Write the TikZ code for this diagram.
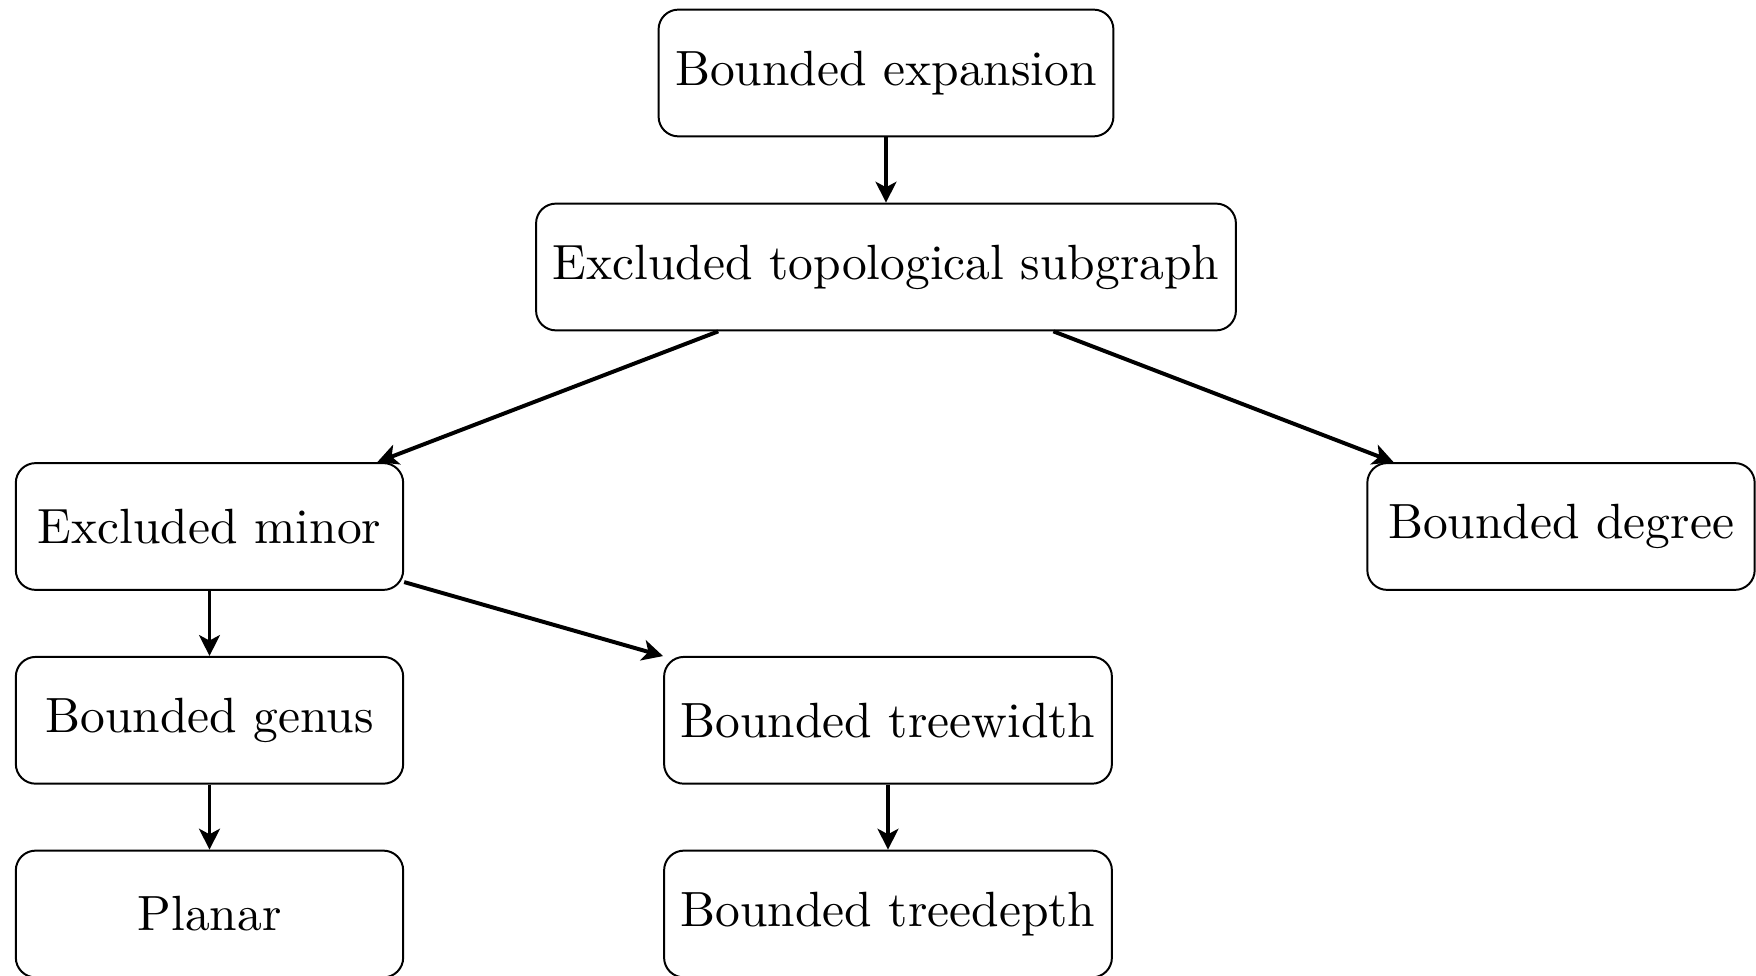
\documentclass[tikz,border=0pt]{standalone}
\usepackage{tikz}
\usetikzlibrary{arrows.meta}

\begin{document}
\begin{tikzpicture}[x=0.202pt,y=0.202pt,yscale=-1,xscale=1,
    classbox/.style={draw,rounded corners,minimum width=2.75cm,minimum height=0.9cm},
    implies/.style={thick,-{Stealth[length=4.2pt,width=4.2pt,inset=1.1pt]}}]
\useasboundingbox (0,0) rectangle (1756,976);
% Text Node
\node [classbox] (expansion) at (886,73) {Bounded expansion};
% Text Node
\node [classbox] (topsub) at (886,267) {Excluded topological subgraph};
% Text Node
\node [classbox] (minor) at (209.5,526.5) {Excluded minor};
% Text Node
\node [classbox] (degree) at (1561,526.5) {Bounded degree};
% Text Node
\node [classbox] (genus) at (209.5,720.3) {Bounded genus};
% Text Node
\node [classbox] (treewidth) at (888,720.3) {Bounded treewidth};
% Text Node
\node [classbox] (planar) at (209.5,914) {Planar};
% Text Node
\node [classbox] (treedepth) at (888,914) {Bounded treedepth};
% Connection
\draw [implies] (expansion) -- (topsub);
% Connection
\draw [implies] (topsub) -- (minor);
% Connection
\draw [implies] (topsub) -- (degree);
% Connection
\draw [implies] (minor) -- (genus);
% Connection
\draw [implies] (minor) -- (treewidth);
% Connection
\draw [implies] (genus) -- (planar);
% Connection
\draw [implies] (treewidth) -- (treedepth);
\end{tikzpicture}
\end{document}
